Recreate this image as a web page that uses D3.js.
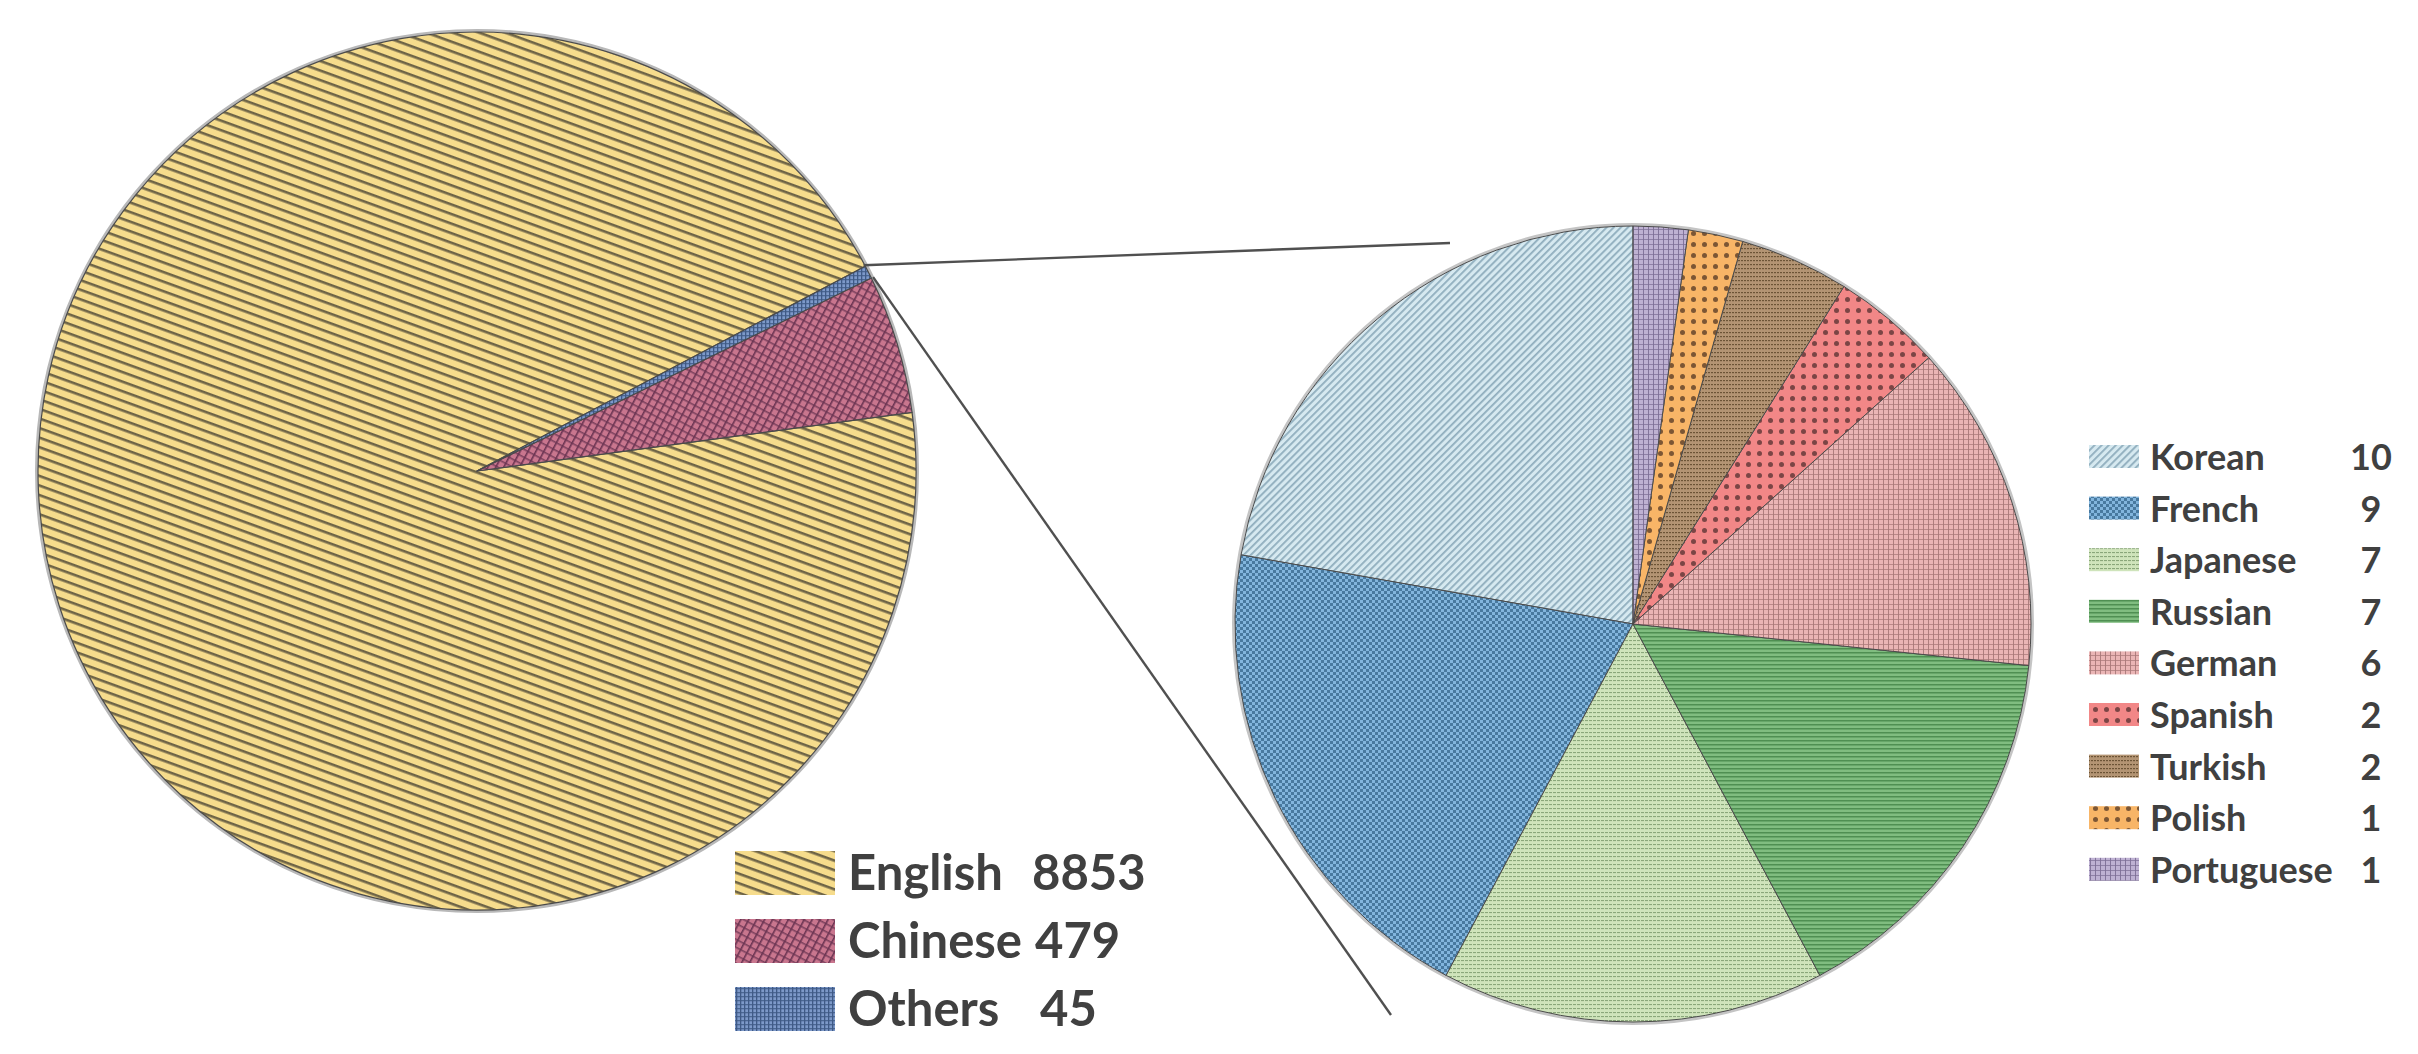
<!DOCTYPE html>
<html>
<head>
<meta charset="utf-8">
<script src="https://cdn.jsdelivr.net/npm/d3@7"></script>
<style>
html,body{margin:0;padding:0;background:#fff;}
svg{display:block;}
text{font-family:Lato,"Open Sans",sans-serif;font-weight:700;fill:#404040;}
</style>
</head>
<body>
<svg id="chart" width="2418" height="1054"></svg>
<script>
// ---- data ----
const mainCategories = ["English", "Chinese", "Others"];
const mainValues = [8853, 479, 45];
const subCategories = ["Korean", "French", "Japanese", "Russian", "German", "Spanish", "Turkish", "Polish", "Portuguese"];
const subValues = [10, 9, 7, 7, 6, 2, 2, 1, 1];

// ---- styles ----
const deg = Math.PI / 180;
const svg = d3.select("#chart");
const defs = svg.append("defs");

function stripePattern(id, bg, fg, size, sw, angle) {
  const p = defs.append("pattern").attr("id", id).attr("patternUnits", "userSpaceOnUse")
    .attr("width", size).attr("height", size).attr("patternTransform", `rotate(${angle})`);
  p.append("rect").attr("width", size).attr("height", size).attr("fill", bg);
  p.append("rect").attr("y", 0).attr("width", size).attr("height", sw).attr("fill", fg);
}
function gridPattern(id, bg, fg, size, sw, angle, vOnly) {
  const p = defs.append("pattern").attr("id", id).attr("patternUnits", "userSpaceOnUse")
    .attr("width", size).attr("height", size).attr("patternTransform", `rotate(${angle})`);
  p.append("rect").attr("width", size).attr("height", size).attr("fill", bg);
  p.append("rect").attr("x", 0).attr("width", sw).attr("height", size).attr("fill", fg);
  if (!vOnly) p.append("rect").attr("y", 0).attr("width", size).attr("height", sw).attr("fill", fg).attr("opacity", 0.8);
}
function dotPattern(id, bg, fg, size, r) {
  const p = defs.append("pattern").attr("id", id).attr("patternUnits", "userSpaceOnUse")
    .attr("width", size).attr("height", size);
  p.append("rect").attr("width", size).attr("height", size).attr("fill", bg);
  p.append("circle").attr("cx", size / 2).attr("cy", size / 2).attr("r", r).attr("fill", fg);
}
function checkerPattern(id, bg, fg, size) {
  const p = defs.append("pattern").attr("id", id).attr("patternUnits", "userSpaceOnUse")
    .attr("width", size * 2).attr("height", size * 2);
  p.append("rect").attr("width", size * 2).attr("height", size * 2).attr("fill", bg);
  p.append("rect").attr("width", size).attr("height", size).attr("fill", fg);
  p.append("rect").attr("x", size).attr("y", size).attr("width", size).attr("height", size).attr("fill", fg);
}
function dashRowPattern(id, bg, fg, w, h, sw) {
  const p = defs.append("pattern").attr("id", id).attr("patternUnits", "userSpaceOnUse")
    .attr("width", w).attr("height", h);
  p.append("rect").attr("width", w).attr("height", h).attr("fill", bg);
  p.append("rect").attr("x", 0).attr("y", 0).attr("width", w - 1).attr("height", sw).attr("fill", fg);
}

// main pie patterns
stripePattern("p-main-0", "#f6dc8c", "#6e6446", 9, 2.6, 20);
gridPattern("p-main-1", "#c9768e", "#6b3452", 7, 1.6, 28, false);
gridPattern("p-main-2", "#7d99c9", "#3f5a86", 4, 1.3, 0, false);
// sub pie patterns
stripePattern("p-sub-0", "#d6e9f0", "#8fadbd", 5, 1.8, -45);
checkerPattern("p-sub-1", "#82b5dd", "#48799f", 3);
dashRowPattern("p-sub-2", "#cfe4bb", "#8aa77a", 4, 4, 1.1);
stripePattern("p-sub-3", "#80bd80", "#4f8f52", 4, 1.5, 0);
gridPattern("p-sub-4", "#eab5b5", "#a97878", 5, 0.9, 0, false);
dotPattern("p-sub-5", "#f28787", "#7b4545", 11, 2.5);
dashRowPattern("p-sub-6", "#b39473", "#6c5436", 3, 4, 1.2);
dotPattern("p-sub-7", "#f8b567", "#7c5634", 11, 2.5);
gridPattern("p-sub-8", "#beb1d2", "#7c6e95", 5, 0.9, 0, false);

// ---- main pie ----
const mainCx = 477, mainCy = 471, mainR = 439;
const mainStart = 62.2 * deg;
const mainPie = d3.pie().sort(null).startAngle(mainStart).endAngle(mainStart - 2 * Math.PI);
const mainArc = d3.arc().innerRadius(0).outerRadius(mainR);
const gMain = svg.append("g").attr("transform", `translate(${mainCx},${mainCy})`);
gMain.append("circle").attr("r", mainR + 1.5).attr("fill", "none").attr("stroke", "#b8b8b8").attr("stroke-width", 3);
gMain.selectAll("path").data(mainPie(mainValues)).join("path")
  .attr("d", mainArc)
  .attr("fill", (d, i) => `url(#p-main-${i})`)
  .attr("stroke", "#4a4a4a").attr("stroke-width", 1.2).attr("stroke-linejoin", "round");

// ---- sub pie ----
const subCx = 1633, subCy = 624, subR = 398;
const subPie = d3.pie().sort(null).startAngle(0).endAngle(-2 * Math.PI);
const subArc = d3.arc().innerRadius(0).outerRadius(subR);
const gSub = svg.append("g").attr("transform", `translate(${subCx},${subCy})`);
gSub.append("circle").attr("r", subR + 1.5).attr("fill", "none").attr("stroke", "#c4c4c4").attr("stroke-width", 3);
gSub.selectAll("path").data(subPie(subValues)).join("path")
  .attr("d", subArc)
  .attr("fill", (d, i) => `url(#p-sub-${i})`)
  .attr("stroke", "#4a4a4a").attr("stroke-width", 1).attr("stroke-linejoin", "round");

// ---- connector lines (from the "Others" slice to the sub pie) ----
const othersArc = mainPie(mainValues)[2];
const edgePt = (a, r) => [mainCx + r * Math.sin(a), mainCy - r * Math.cos(a)];
const pA = edgePt(othersArc.endAngle, mainR - 2);
const pB = edgePt(othersArc.startAngle, mainR + 2);
svg.append("line").attr("x1", pA[0]).attr("y1", pA[1] - 2).attr("x2", 1450).attr("y2", 243)
  .attr("stroke", "#505050").attr("stroke-width", 2.4);
svg.append("line").attr("x1", pB[0]).attr("y1", pB[1]).attr("x2", 1391).attr("y2", 1015)
  .attr("stroke", "#505050").attr("stroke-width", 2.4);

// ---- main legend ----
const gLeg = svg.append("g");
mainCategories.forEach((c, i) => {
  const y = 851 + i * 68;
  gLeg.append("rect").attr("x", 735).attr("y", y).attr("width", 100).attr("height", 44)
    .attr("fill", `url(#p-main-${i})`);
  gLeg.append("text").attr("x", 848).attr("y", y + 39).attr("font-size", 49).text(c);
  gLeg.append("text").attr("x", 1032 + (i === 2 ? 8 : i === 1 ? 3 : 0)).attr("y", y + 39)
    .attr("font-size", 49).text(mainValues[i]);
});

// ---- sub legend ----
const gLeg2 = svg.append("g");
subCategories.forEach((c, i) => {
  const y = 445 + i * 51.6;
  gLeg2.append("rect").attr("x", 2089).attr("y", y).attr("width", 50).attr("height", 23)
    .attr("fill", `url(#p-sub-${i})`);
  gLeg2.append("text").attr("x", 2150).attr("y", y + 25).attr("font-size", 36).text(c);
  gLeg2.append("text").attr("x", 2371).attr("y", y + 25).attr("font-size", 36)
    .attr("text-anchor", "middle").text(subValues[i]);
});
</script>
</body>
</html>
